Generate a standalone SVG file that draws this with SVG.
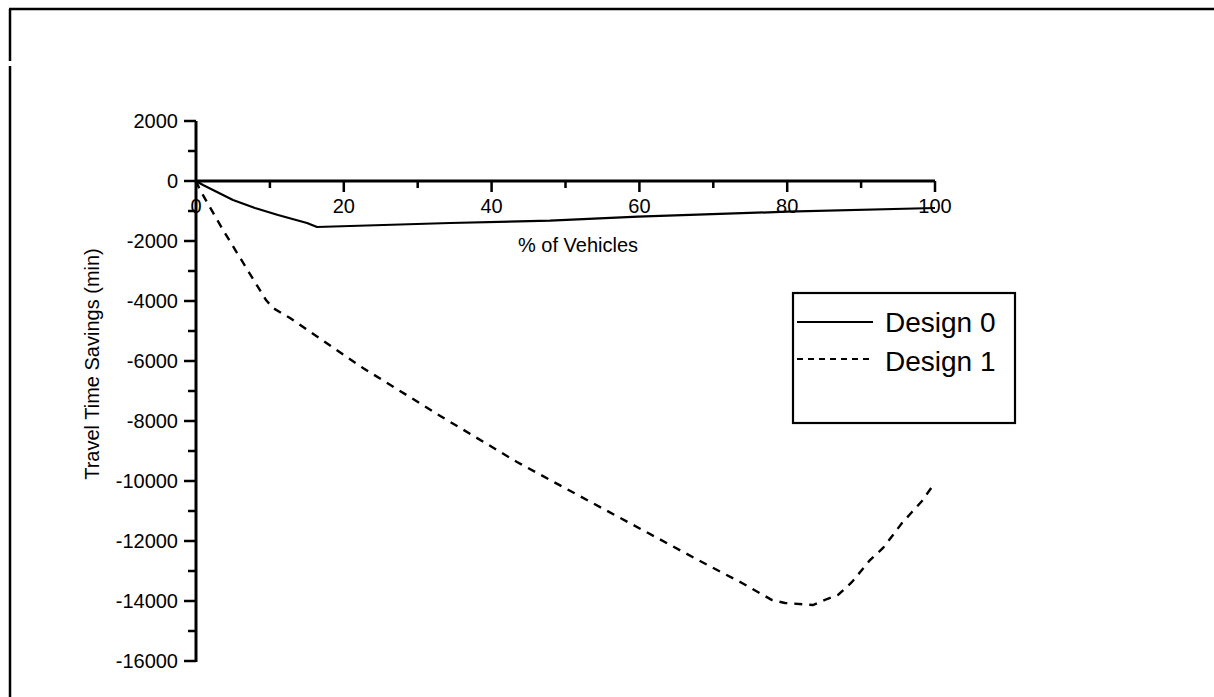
<svg xmlns="http://www.w3.org/2000/svg" width="1214" height="697" viewBox="0 0 1214 697">
<style>
text{font-family:"Liberation Sans",Arial,sans-serif;fill:#000}
.tl{font-size:20px}
.yl{text-anchor:end}
.xl{text-anchor:middle}
.ax{stroke:#000;stroke-width:3;fill:none}
.tk{stroke:#000;stroke-width:2.5;fill:none}
.s0{stroke:#000;stroke-width:2.2;fill:none;stroke-linejoin:round}
.s1{stroke:#000;stroke-width:2.4;fill:none;stroke-dasharray:8 7}
.lg{font-size:28px}
</style>
<g id="frame">
<line x1="9" y1="9" x2="1214" y2="9" stroke="#000" stroke-width="2.5"/>
<line x1="10" y1="9" x2="10" y2="61" stroke="#000" stroke-width="2.5"/>
<line x1="10" y1="66" x2="10" y2="697" stroke="#000" stroke-width="2.5"/>
</g>
<g id="y-axis">
<line class="ax" x1="196" y1="121" x2="196" y2="662"/>
<path class="tk" d="M184,121H196M184,181H196M184,241H196M184,301H196M184,361H196M184,421H196M184,481H196M184,541H196M184,601H196M184,661H196"/>
<path class="tk" d="M188,151H196M188,211H196M188,271H196M188,331H196M188,391H196M188,451H196M188,511H196M188,571H196M188,631H196"/>
<g class="tl yl">
<text x="178" y="128">2000</text>
<text x="178" y="188">0</text>
<text x="178" y="248">-2000</text>
<text x="178" y="308">-4000</text>
<text x="178" y="368">-6000</text>
<text x="178" y="428">-8000</text>
<text x="178" y="488">-10000</text>
<text x="178" y="548">-12000</text>
<text x="178" y="608">-14000</text>
<text x="178" y="668">-16000</text>
</g>
<text class="tl" x="0" y="0" text-anchor="middle" transform="translate(99,364) rotate(-90)" font-size="22">Travel Time Savings (min)</text>
</g>
<g id="x-axis">
<line class="ax" x1="196" y1="181" x2="935" y2="181" stroke-width="2.6"/>
<path class="tk" d="M343.8,181V192M491.6,181V192M639.4,181V192M787.2,181V192M935,181V192"/>
<path class="tk" d="M269.9,181V188M417.7,181V188M565.5,181V188M713.3,181V188M861.1,181V188"/>
<g class="tl xl">
<text x="196" y="213">0</text>
<text x="343.8" y="213">20</text>
<text x="491.6" y="213">40</text>
<text x="639.4" y="213">60</text>
<text x="787.2" y="213">80</text>
<text x="935" y="213">100</text>
</g>
<text class="tl xl" x="578" y="252">% of Vehicles</text>
</g>
<g id="connectors">
<path id="design0" class="s0" d="M196,181 L203,185 L213,190 L233,200 L255,208 L278,215 L307,223 L317,227 L450,223 L550,220.7 L638,216.7 L787,211.7 L935,208"/>
<path id="design1" class="s1" d="M196,181 L200,190 L223,230 L266,300 L273,308 L290,318 L363,368 L442,417 L517,462 L587,500 L700,561 L742,583 L772,600 L785,603 L813,605 L827,599 L838,595 L852,582 L870,560 L883,548 L893,535 L902,523 L912,512 L922,501 L934,484"/>
</g>
<g id="legend">
<rect x="793" y="293" width="222" height="130" fill="#fff" stroke="#000" stroke-width="2.2"/>
<line x1="797" y1="322" x2="873" y2="322" stroke="#000" stroke-width="2.2"/>
<line x1="797" y1="359" x2="873" y2="359" stroke="#000" stroke-width="2" stroke-dasharray="6 5"/>
<text class="lg" x="885" y="332">Design 0</text>
<text class="lg" x="885" y="371">Design 1</text>
</g>
</svg>
